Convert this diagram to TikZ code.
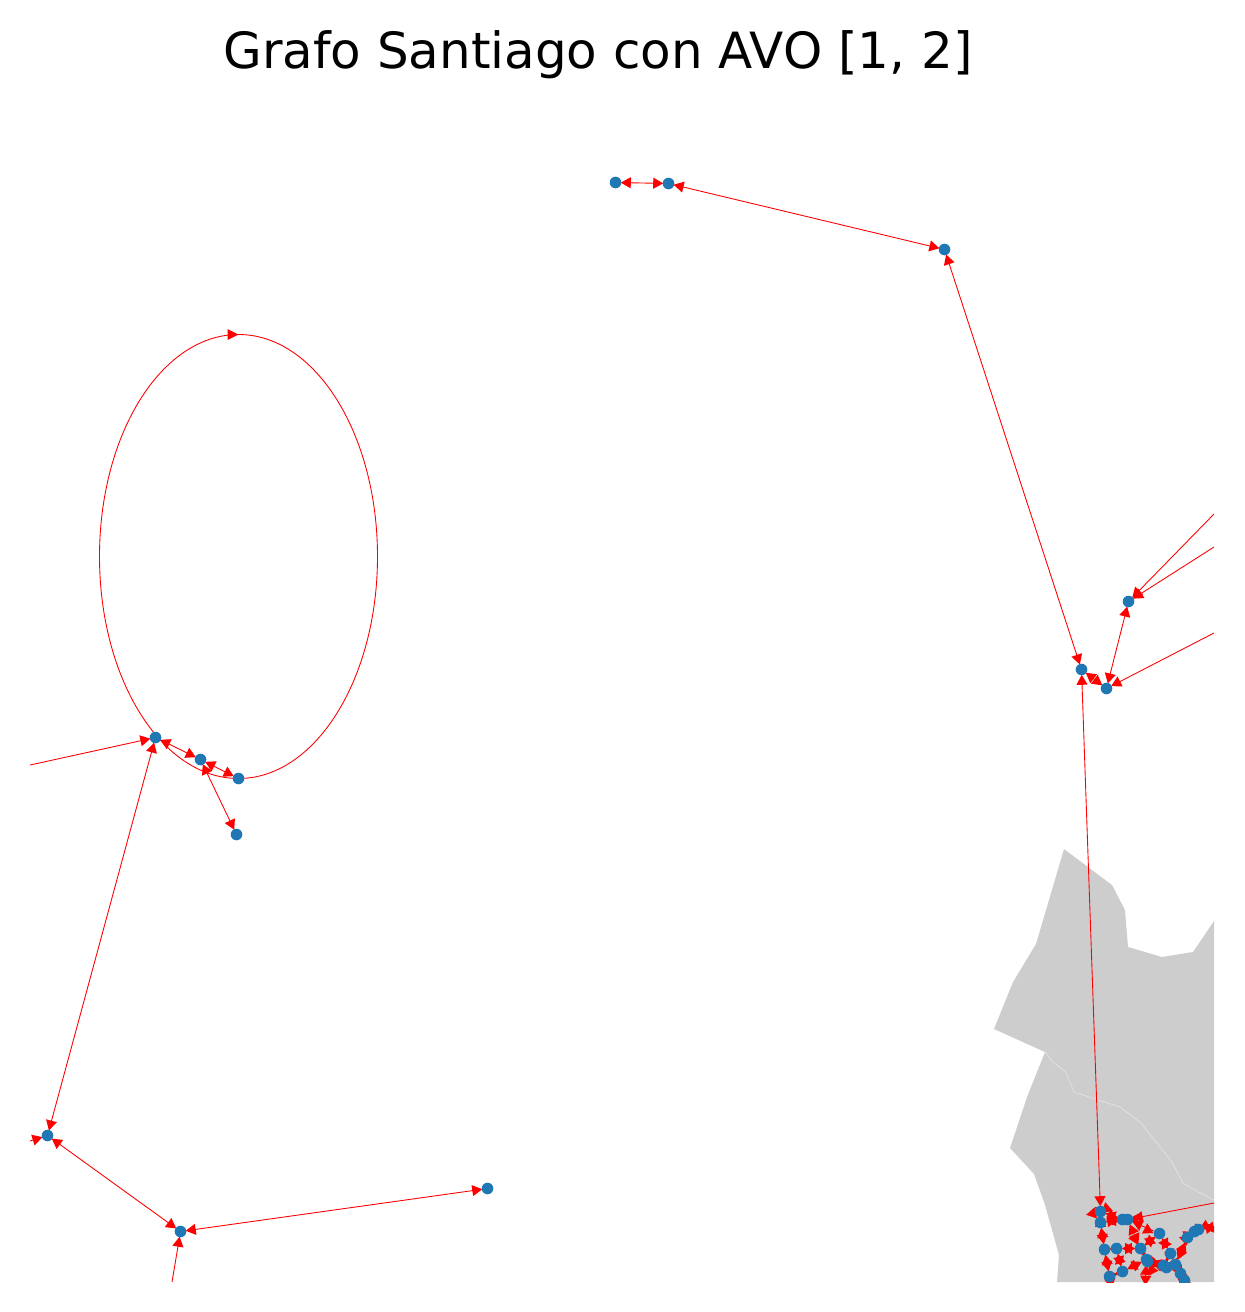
\documentclass[tikz,border=0pt]{standalone}
\usepackage{fontspec}
\setmainfont{DejaVu Sans}
\usetikzlibrary{calc}
\definecolor{nodoazul}{HTML}{1F77B4}
\definecolor{comuna}{HTML}{CDCDCD}
\pgfdeclarelayer{fondo}
\pgfsetlayers{fondo,main}
\tikzset{
	nodo/.style={circle,fill=nodoazul,inner sep=0pt,minimum size=3.3pt},
	arista/.style={red,line width=.25pt}
}
% punta de flecha, de #1 hacia #2
\newcommand{\punta}[2]{
	\coordinate (pa) at ($(#2)!1.5pt!(#1)$);
	\coordinate (pb) at ($(#2)!4.35pt!(#1)$);
	\fill[red] (pa) -- ($(pb)!1.6pt!90:(pa)$) -- ($(pb)!1.6pt!-90:(pa)$) -- cycle;
}

\begin{document}
\begin{tikzpicture}[x=.01cm,y=-.01cm]
	\useasboundingbox (0,0) rectangle (1244,1312);
	\node[font=\fontsize{14.2}{16}\selectfont] (titulo) at (598,55) {Grafo Santiago con AVO [1, 2]};
	\begin{scope}
	\clip (30,100) rectangle (1214,1282);
	% nodos
	\foreach \nombre/\x/\y in {a/615/182,b/668/183,c/944/249,d/1081/669,e/1106/688,f/1128/601,
		g/155/737,h/200/759,i/238/778,j/236/834,k/47/1135,l/180/1231,m/487/1188,
		n/1100/1211,o/1100/1222,p/1122/1219,q/1127/1219,r/1159/1233,s/1187/1237,t/1194/1231,u/1198/1229,
		v/1104/1249,w/1116/1248,x/1140/1248,y/1146/1259,z/1147/1261,aa/1170/1253,ab/1109/1276,ac/1122/1271,
		ad/1163/1265,ae/1166/1267,af/1175/1264,ag/1180/1273,ah/1184/1280}
		\node[nodo] (\nombre) at (\x+.5,\y+.5) {};
	\end{scope}
	\begin{pgfonlayer}{fondo}
	\clip (30,100) rectangle (1214,1282);
	% comunas
	\fill[comuna] (1064,849) -- (1112,885) -- (1125,910) -- (1128,947) -- (1162,957) -- (1193,952)
	-- (1214,921) -- (1214,1282) -- (1057,1282) -- (1059,1255) -- (1045,1205) -- (1034,1174)
	-- (1010,1148) -- (1027,1097) -- (1045,1052) -- (994,1029) -- (1013,982) -- (1036,944) -- cycle;
	\draw[white!65!comuna,line width=.12pt] (1045,1052) -- (1053,1062) -- (1066,1072) -- (1074,1092)
	-- (1120,1107) -- (1141,1123) -- (1172,1162) -- (1183,1183) -- (1193,1189) -- (1214,1200);
	% extremos libres
	\coordinate (f1) at (1214,514);
	\coordinate (f2) at (1214,547);
	\coordinate (e1) at (1214,633);
	\coordinate (g1) at (30,765);
	\coordinate (k1) at (30,1141);
	\coordinate (l1) at (172,1282);
	\coordinate (q1) at (1214,1203);
	\coordinate (u1) at (1221,1226);
	\coordinate (y1) at (1145,1291);
	\coordinate (ab1) at (1112,1294);
	% aristas
	\foreach \uno/\dos in {a/b,b/c,c/d,d/e,e/f,d/n,g/h,h/i,h/j,g/k,k/l,l/m,
		n/o,n/p,o/p,p/q,q/x,o/v,v/w,w/x,x/r,x/y,y/ac,ac/w,v/ab,ab/ac,r/aa,aa/ad,y/ad,z/ae,aa/af,af/ag,ag/ah,s/t,t/u,s/af,y/z,
		u1/u,y1/y,ab1/ab}{
		\draw[arista] (\uno) -- (\dos);
		\punta{\uno}{\dos}
		\punta{\dos}{\uno}
	}
	\foreach \uno/\dos in {f1/f,f2/f,e1/e,g1/g,k1/k,l1/l,q1/q,r/q}{
		\draw[arista] (\uno) -- (\dos);
		\punta{\uno}{\dos}
	}
	% puntas sueltas del centro
	\coordinate (s1) at (1085,1205);
	\coordinate (s2) at (1109,1220);
	\coordinate (s3) at (1104,1197);
	\coordinate (s4) at (1150,1240);
	\coordinate (s5) at (1123,1238);
	\coordinate (s6) at (1148,1240);
	\coordinate (s7) at (1147,1218);
	\punta{s1}{o}
	\punta{s2}{s3}
	\punta{s4}{s5}
	\punta{s6}{s7}
	% lazo
	\draw[arista] (i.center) arc[start angle=90,end angle=270,x radius=139,y radius=222] coordinate (lazo)
	arc[start angle=270,end angle=450,x radius=139,y radius=222];
	\fill[red] (lazo) -- ++(-11,-5.5) -- ++(0,11) -- cycle;
	\end{pgfonlayer}
\end{tikzpicture}
\end{document}
